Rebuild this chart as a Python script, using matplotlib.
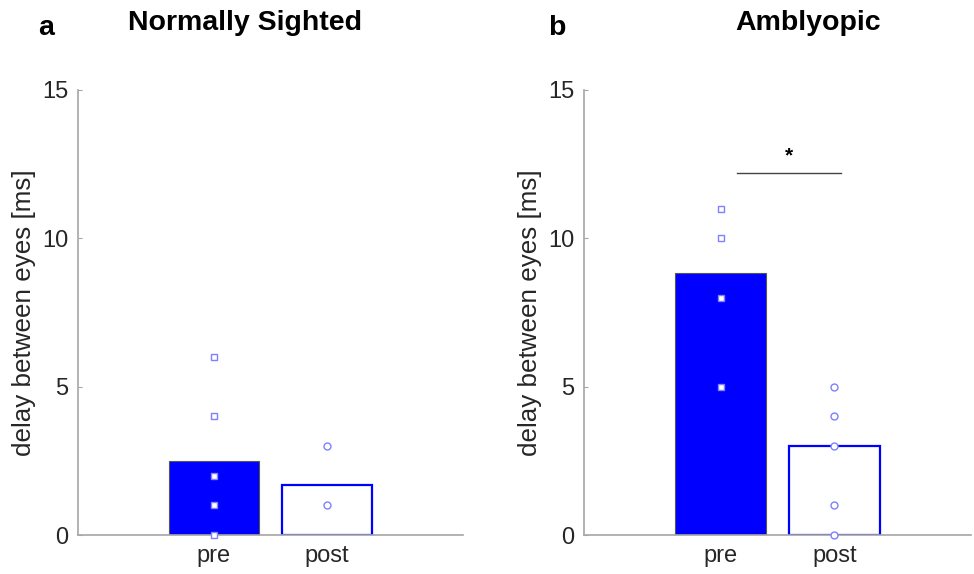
import matplotlib
matplotlib.use("Agg")
import matplotlib.pyplot as plt

plt.rcParams['font.family'] = ['Liberation Sans', 'DejaVu Sans']

categories = ["pre", "post"]
yticks = [0, 5, 10, 15]

# Normally sighted
ns_bar = [2.5, 1.67]
ns_pre_pts = [0, 1, 2, 4, 6]
ns_post_pts = [1, 3]

# Amblyopic
am_bar = [8.84, 3.0]
am_pre_pts = [5, 8, 10, 11]
am_post_pts = [0, 1, 3, 4, 5]

sig_y = 12.2
sig_x = [1.14, 2.06]

fig = plt.figure(figsize=(9.74, 5.74), dpi=100)
ax1 = fig.add_axes([78/974, 39/574, 385/974, 445/574])
ax2 = fig.add_axes([584/974, 39/574, 387/974, 445/574])

spine_col = '#a6a6a6'
text_col = '#262626'
blue = '#0000ff'
mk_edge = '#7f7fff'

def draw(ax, bars, pre_pts, post_pts):
    x = [1, 2]
    ax.bar(x[0], bars[0], width=0.8, color=blue, edgecolor='#555555', linewidth=0.8, zorder=2)
    ax.bar(x[1], bars[1], width=0.8, color='white', edgecolor=blue, linewidth=1.6, zorder=2)
    ax.plot([x[0]]*len(pre_pts), pre_pts, linestyle='none', marker='s', ms=4.2,
            mfc='white', mec=mk_edge, mew=1.0, zorder=3, clip_on=False)
    ax.plot([x[1]]*len(post_pts), post_pts, linestyle='none', marker='o', ms=5,
            mfc='white', mec=mk_edge, mew=1.0, zorder=3, clip_on=False)
    ax.set_xlim(-0.2, 3.2)
    ax.set_ylim(0, 15)
    ax.set_yticks(yticks)
    ax.set_xticks(x)
    ax.set_xticklabels(categories)
    for s in ['top', 'right']:
        ax.spines[s].set_visible(False)
    for s in ['left', 'bottom']:
        ax.spines[s].set_color(spine_col)
        ax.spines[s].set_linewidth(1.2)
    ax.tick_params(axis='y', direction='in', length=3, color=spine_col, labelsize=17,
                   labelcolor=text_col, pad=7)
    ax.tick_params(axis='x', length=0, labelsize=17, labelcolor=text_col, pad=7)
    ax.set_ylabel("delay between eyes [ms]", fontsize=18.7, color=text_col, labelpad=4)

draw(ax1, ns_bar, ns_pre_pts, ns_post_pts)
draw(ax2, am_bar, am_pre_pts, am_post_pts)

ax2.plot(sig_x, [sig_y, sig_y], color='#444444', linewidth=1.0)
ax2.text(sum(sig_x)/2, sig_y + 0.25, "*", ha='center', va='bottom', fontsize=15,
         fontweight='bold', color='black')

fig.text(245/974, 1 - 23/574, "Normally Sighted", ha='center', va='center',
         fontsize=20.5, fontweight='bold')
fig.text(808/974, 1 - 23/574, "Amblyopic", ha='center', va='center',
         fontsize=20.5, fontweight='bold')
fig.text(46/974, 1 - 28/574, "a", ha='center', va='center', fontsize=20.5, fontweight='bold')
fig.text(557/974, 1 - 28/574, "b", ha='center', va='center', fontsize=20.5, fontweight='bold')

fig.savefig("out.png", dpi=100)
